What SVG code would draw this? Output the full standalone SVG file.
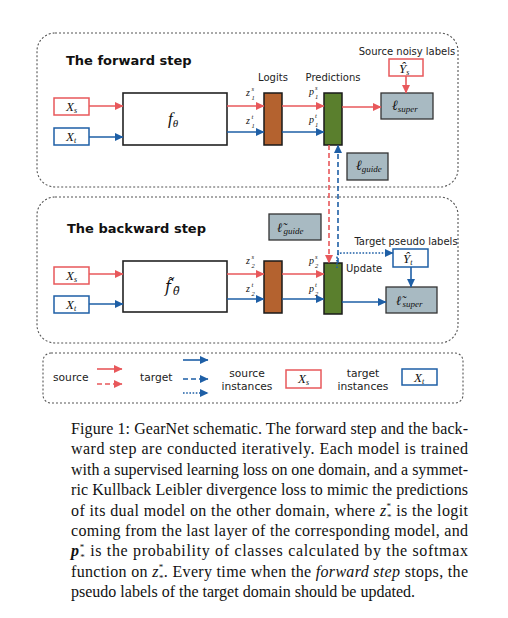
<svg xmlns="http://www.w3.org/2000/svg" width="508" height="618" viewBox="0 0 508 618">
<defs>
<marker id="ar" markerUnits="userSpaceOnUse" markerWidth="9" markerHeight="9" refX="8" refY="4.5" orient="auto"><path d="M0,0.5 L8.5,4.5 L0,8.5 z" fill="#E8585B"/></marker>
<marker id="ab" markerUnits="userSpaceOnUse" markerWidth="9" markerHeight="9" refX="8" refY="4.5" orient="auto"><path d="M0,0.5 L8.5,4.5 L0,8.5 z" fill="#1E5FA6"/></marker>
</defs>
<style>
.cont{fill:none;stroke:#555;stroke-width:1.1;stroke-dasharray:2 2}
.title{font-family:"DejaVu Sans",sans-serif;font-weight:bold;font-size:13px;fill:#111}
.lbl{font-family:"DejaVu Sans",sans-serif;font-size:10px;fill:#222}
.leg{font-family:"DejaVu Sans",sans-serif;font-size:10.7px;fill:#222}
.m{font-family:"Liberation Serif",serif;font-style:italic;fill:#111}
.mt{font-family:"DejaVu Serif",serif;font-style:italic;fill:#111}
.rbox{fill:#fff;stroke:#E8585B;stroke-width:1.5}
.bbox{fill:#fff;stroke:#1E5FA6;stroke-width:1.5}
.fbox{fill:#fff;stroke:#222;stroke-width:1.6}
.logit{fill:#B4622F;stroke:#1a1a1a;stroke-width:1.5}
.pred{fill:#5A7F2D;stroke:#1a1a1a;stroke-width:1.5}
.loss{fill:#A8BAC2;stroke:#333;stroke-width:1.3}
.r{stroke:#E8585B;stroke-width:1.6;fill:none;marker-end:url(#ar)}
.b{stroke:#1E5FA6;stroke-width:1.6;fill:none;marker-end:url(#ab)}
.dash{stroke-dasharray:5 3}
.dot{stroke-dasharray:1.6 1.6}
.cap{font-family:"Liberation Serif",serif;font-size:16px;fill:#111}
</style>
<rect width="508" height="618" fill="#fff"/>

<g id="containers">
<rect class="cont" x="37" y="33" width="421" height="154" rx="18"/>
<rect class="cont" x="37" y="197" width="421" height="146" rx="18"/>
<rect class="cont" x="43" y="353" width="420" height="50" rx="8"/>
</g>

<g id="titles">
<text class="title" x="66" y="65">The forward step</text>
<text class="title" x="67" y="233">The backward step</text>
</g>

<g id="fwd-Xs"><rect class="rbox" x="54" y="98" width="35" height="17"/><text class="m" x="66" y="111" font-size="13">X<tspan font-size="8" dy="2">s</tspan></text></g>
<g id="fwd-Xt"><rect class="bbox" x="54" y="128" width="35" height="17"/><text class="m" x="66" y="141" font-size="13">X<tspan font-size="8" dy="2">t</tspan></text></g>
<g id="fwd-f"><rect class="fbox" x="123" y="93" width="104" height="52"/><text class="m" x="168" y="124" font-size="17">f<tspan font-size="11" dy="3">θ</tspan></text></g>
<g id="fwd-logits"><rect class="logit" x="264" y="93" width="18" height="52"/><text class="lbl" x="273" y="81" text-anchor="middle">Logits</text></g>
<g id="fwd-pred"><rect class="pred" x="324" y="93" width="18" height="52"/><text class="lbl" x="333" y="81" text-anchor="middle">Predictions</text></g>
<g id="fwd-lsuper"><rect class="loss" x="381" y="93" width="52" height="26"/><text class="m" x="392" y="110" font-size="14">ℓ<tspan font-size="9" dy="2">super</tspan></text></g>
<g id="fwd-Ys"><rect class="rbox" x="389" y="59" width="34" height="17"/><text class="m" x="399" y="73" font-size="13">Ŷ<tspan font-size="8" dy="2">s</tspan></text><text class="lbl" x="407" y="55" text-anchor="middle" font-size="9.3">Source noisy labels</text></g>
<g id="fwd-lguide"><rect class="loss" x="347" y="153" width="41" height="27"/><text class="m" x="356" y="170" font-size="14">ℓ<tspan font-size="9" dy="2">guide</tspan></text></g>

<g id="bwd-Xs"><rect class="rbox" x="54" y="267" width="35" height="17"/><text class="m" x="66" y="280" font-size="13">X<tspan font-size="8" dy="2">s</tspan></text></g>
<g id="bwd-Xt"><rect class="bbox" x="54" y="296" width="35" height="17"/><text class="m" x="66" y="309" font-size="13">X<tspan font-size="8" dy="2">t</tspan></text></g>
<g id="bwd-f"><rect class="fbox" x="123" y="261" width="104" height="51"/>
<text class="mt" x="165" y="292" font-size="16">f̃<tspan font-size="11" dx="2" dy="3">θ̃</tspan></text></g>
<g id="bwd-logits"><rect class="logit" x="264" y="261" width="18" height="52"/></g>
<g id="bwd-pred"><rect class="pred" x="324" y="263" width="18" height="51"/></g>
<g id="bwd-lguide"><rect class="loss" x="269" y="214" width="52" height="26"/>
<text class="mt" x="277" y="232" font-size="13">ℓ̃<tspan class="m" font-size="9" dx="1" dy="2">guide</tspan></text></g>
<g id="bwd-Yt"><rect class="bbox" x="393" y="249" width="35" height="18"/><text class="m" x="403" y="263" font-size="13">Ŷ<tspan font-size="8" dy="2">t</tspan></text><text class="lbl" x="406" y="245" text-anchor="middle" font-size="9">Target pseudo labels</text></g>
<g id="bwd-lsuper"><rect class="loss" x="386" y="287" width="51" height="26"/>
<text class="mt" x="396" y="305" font-size="13">ℓ̃<tspan class="m" font-size="9" dx="1" dy="2">super</tspan></text></g>

<g id="connectors">
<path class="r" d="M89,106 H123"/>
<path class="b" d="M89,137 H123"/>
<path class="r" d="M227,106 H264"/>
<path class="b" d="M227,132 H264"/>
<path class="r" d="M282,106 H324"/>
<path class="b" d="M282,132 H324"/>
<path class="r" d="M342,107 H381"/>
<path class="r" d="M406,76 V93"/>
<path class="r" d="M89,274 H123"/>
<path class="b" d="M89,304 H123"/>
<path class="r" d="M227,274 H264"/>
<path class="b" d="M227,299 H264"/>
<path class="r" d="M282,274 H324"/>
<path class="b" d="M282,299 H324"/>
<path class="b" d="M342,302 H386"/>
<path class="b" d="M411,267 V287"/>
<path class="r dash" d="M329,145 V263"/>
<path class="b dash" d="M338,263 V145"/>
<path class="b dot" d="M337,268 V258 Q337,253 342,253 H393"/>
</g>

<g id="edge-labels">
<text class="m" x="246" y="96" font-size="10">z</text><text class="m" x="251.5" y="91" font-size="6.5">s</text><text class="m" x="251.5" y="99.5" font-size="6.5">1</text>
<text class="m" x="246" y="124" font-size="10">z</text><text class="m" x="251.5" y="119" font-size="6.5">t</text><text class="m" x="251.5" y="127.5" font-size="6.5">1</text>
<text class="m" x="309" y="95" font-size="10">p</text><text class="m" x="315" y="90" font-size="6.5">s</text><text class="m" x="315" y="98.5" font-size="6.5">1</text>
<text class="m" x="309" y="123" font-size="10">p</text><text class="m" x="315" y="118" font-size="6.5">t</text><text class="m" x="315" y="126.5" font-size="6.5">1</text>
<text class="m" x="246" y="264" font-size="10">z</text><text class="m" x="251.5" y="259" font-size="6.5">s</text><text class="m" x="251.5" y="267.5" font-size="6.5">2</text>
<text class="m" x="246" y="292" font-size="10">z</text><text class="m" x="251.5" y="287" font-size="6.5">t</text><text class="m" x="251.5" y="295.5" font-size="6.5">2</text>
<text class="m" x="309" y="264" font-size="10">p</text><text class="m" x="315" y="259" font-size="6.5">s</text><text class="m" x="315" y="267.5" font-size="6.5">2</text>
<text class="m" x="309" y="292" font-size="10">p</text><text class="m" x="315" y="287" font-size="6.5">t</text><text class="m" x="315" y="295.5" font-size="6.5">2</text>
<text class="lbl" x="346" y="272">Update</text>
</g>

<g id="legend">
<text class="leg" x="53" y="381">source</text>
<path class="r" d="M97,369 H122"/>
<path class="r dash" d="M97,384 H122"/>
<text class="leg" x="140" y="381">target</text>
<path class="b" d="M183,360 H208"/>
<path class="b dash" d="M183,379 H208"/>
<path class="b dot" d="M183,393 H208"/>
<text class="leg" x="247" y="377" text-anchor="middle">source</text>
<text class="leg" x="247" y="390" text-anchor="middle">instances</text>
<rect class="rbox" x="286" y="370" width="35" height="18"/><text class="m" x="298" y="383" font-size="13">X<tspan font-size="8" dy="2">s</tspan></text>
<text class="leg" x="363" y="377" text-anchor="middle">target</text>
<text class="leg" x="363" y="390" text-anchor="middle">instances</text>
<rect class="bbox" x="402" y="369" width="35" height="16"/><text class="m" x="414" y="381.5" font-size="13">X<tspan font-size="8" dy="2">t</tspan></text>
</g>

<g id="caption" class="cap">
<text x="71" y="434" textLength="397">Figure 1: GearNet schematic. The forward step and the back-</text>
<text x="71" y="454.4" textLength="397">ward step are conducted iteratively. Each model is trained</text>
<text x="71" y="474.8" textLength="397">with a supervised learning loss on one domain, and a symmet-</text>
<text x="71" y="495.2" textLength="397">ric Kullback Leibler divergence loss to mimic the predictions</text>
<text x="71" y="515.6" textLength="397">of its dual model on the other domain, where <tspan font-style="italic">z</tspan><tspan font-size="9" dy="-6.5">*</tspan><tspan font-size="9" dx="-4.5" dy="10.5">*</tspan><tspan dy="-4"> is the logit</tspan></text>
<text x="71" y="536" textLength="397">coming from the last layer of the corresponding model, and</text>
<text x="71" y="556.4" textLength="397"><tspan font-style="italic" font-weight="bold">p</tspan><tspan font-size="9" dy="-6.5">*</tspan><tspan font-size="9" dx="-4.5" dy="10.5">*</tspan><tspan dy="-4"> is the probability of classes calculated by the softmax</tspan></text>
<text x="71" y="576.8" textLength="397">function on <tspan font-style="italic">z</tspan><tspan font-size="9" dy="-6.5">*</tspan><tspan font-size="9" dx="-4.5" dy="10.5">*</tspan><tspan dy="-4">. Every time when the </tspan><tspan font-style="italic">forward step</tspan> stops, the</text>
<text x="71" y="597.2">pseudo labels of the target domain should be updated.</text>
</g>
</svg>
